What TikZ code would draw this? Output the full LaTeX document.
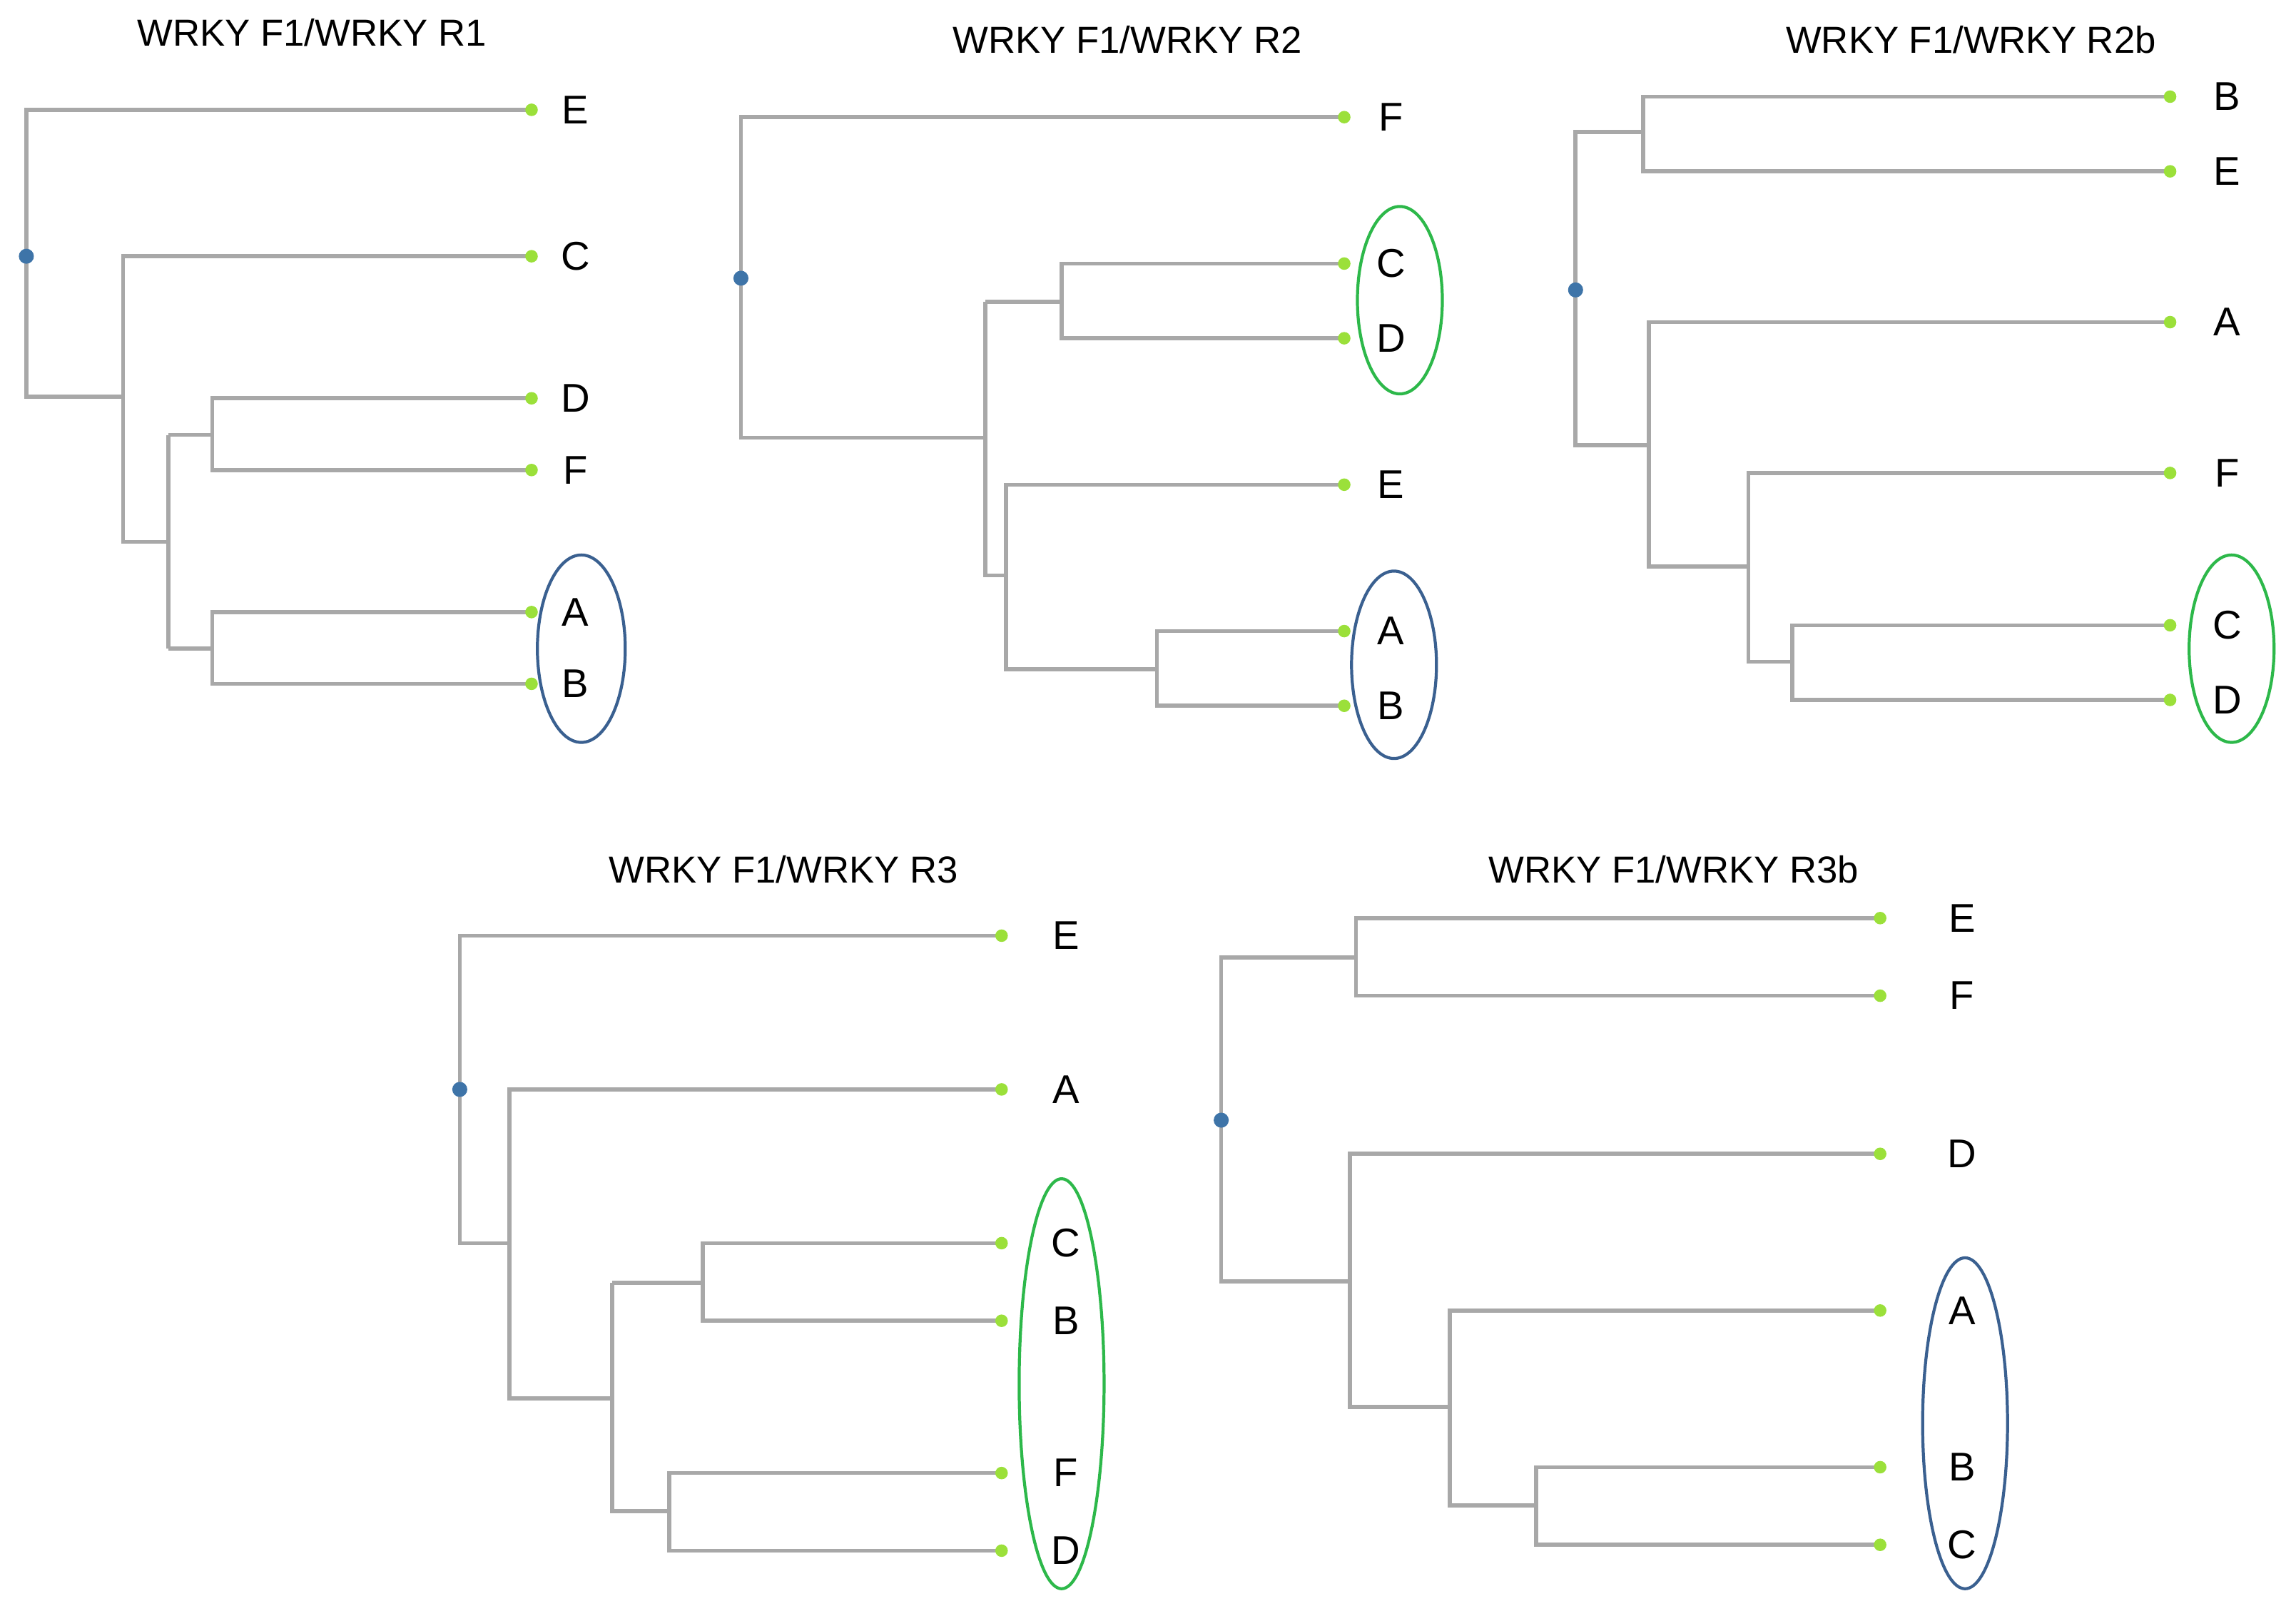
\documentclass[tikz,border=0pt]{standalone}
\usepackage{fontspec}
\setmainfont{Liberation Sans}
\definecolor{br}{HTML}{A8A8A8}
\definecolor{lf}{HTML}{9BE03A}
\definecolor{rt}{HTML}{3E74A8}
\definecolor{eg}{HTML}{2DB84A}
\definecolor{eb}{HTML}{3A6090}
\begin{document}
\begin{tikzpicture}[x=0.020523cm,y=-0.020523cm,
  br/.style={draw=br,line width=1.6pt},
  leaf/.style={circle,fill=lf,inner sep=0pt,minimum size=5pt},
  root/.style={circle,fill=rt,inner sep=0pt,minimum size=6pt},
  lab/.style={font=\fontsize{16}{18}\selectfont},
  ttl/.style={font=\fontsize{15}{18}\selectfont},
  ell/.style={line width=1.2pt}]
\useasboundingbox (0,0) rectangle (1568,1107);
% Tree 1
\node[ttl] at (213,22) {WRKY F1/WRKY R1};
\draw[br] (363,75)--(18,75)--(18,271)--(84,271);
\draw[br] (363,175)--(84,175)--(84,370)--(115,370);
\draw[br] (115,297)--(115,443);
\draw[br] (363,272)--(145,272)--(145,321)--(363,321);
\draw[br] (115,297)--(145,297);
\draw[br] (363,418)--(145,418)--(145,467)--(363,467);
\draw[br] (115,443)--(145,443);
\foreach \y/\t in {75/E,175/C,272/D,321/F,418/A,467/B}{\node[leaf] at (363,\y){}; \node[lab] at (393,\y){\t};}
\node[root] at (18,175){};
\draw[eb,ell] (397,443) ellipse [x radius=30,y radius=64];
% Tree 2
\node[ttl] at (770,27) {WRKY F1/WRKY R2};
\draw[br] (918,80)--(506,80)--(506,299)--(673,299);
\draw[br] (673,206)--(673,393)--(687,393);
\draw[br] (673,206)--(725,206);
\draw[br] (918,180)--(725,180)--(725,231)--(918,231);
\draw[br] (918,331)--(687,331)--(687,457)--(790,457);
\draw[br] (918,431)--(790,431)--(790,482)--(918,482);
\foreach \y/\t in {80/F,180/C,231/D,331/E,431/A,482/B}{\node[leaf] at (918,\y){}; \node[lab] at (950,\y){\t};}
\node[root] at (506,190){};
\draw[eg,ell] (956,205) ellipse [x radius=29,y radius=64];
\draw[eb,ell] (952,454) ellipse [x radius=29,y radius=64];
% Tree 3
\node[ttl] at (1346,27) {WRKY F1/WRKY R2b};
\draw[br] (1122,90)--(1076,90)--(1076,304)--(1126,304);
\draw[br] (1482,66)--(1122,66)--(1122,117)--(1482,117);
\draw[br] (1482,220)--(1126,220)--(1126,387)--(1194,387);
\draw[br] (1482,323)--(1194,323)--(1194,452)--(1224,452);
\draw[br] (1482,427)--(1224,427)--(1224,478)--(1482,478);
\foreach \y/\t in {66/B,117/E,220/A,323/F,427/C,478/D}{\node[leaf] at (1482,\y){}; \node[lab] at (1521,\y){\t};}
\node[root] at (1076,198){};
\draw[eg,ell] (1524,443) ellipse [x radius=29,y radius=64];
% Tree 4
\node[ttl] at (535,594) {WRKY F1/WRKY R3};
\draw[br] (684,639)--(314,639)--(314,849)--(348,849);
\draw[br] (684,744)--(348,744)--(348,955)--(418,955);
\draw[br] (418,876)--(480,876);
\draw[br] (418,876)--(418,1032)--(457,1032);
\draw[br] (684,849)--(480,849)--(480,902)--(684,902);
\draw[br] (684,1006)--(457,1006)--(457,1059)--(684,1059);
\foreach \y/\t in {639/E,744/A,849/C,902/B,1006/F,1059/D}{\node[leaf] at (684,\y){}; \node[lab] at (728,\y){\t};}
\node[root] at (314,744){};
\draw[eg,ell] (725,945) ellipse [x radius=29,y radius=140];
% Tree 5
\node[ttl] at (1143,594) {WRKY F1/WRKY R3b};
\draw[br] (926,654)--(834,654)--(834,875)--(922,875);
\draw[br] (1284,627)--(926,627)--(926,680)--(1284,680);
\draw[br] (1284,788)--(922,788)--(922,961)--(990,961);
\draw[br] (1284,895)--(990,895)--(990,1028)--(1049,1028);
\draw[br] (1284,1002)--(1049,1002)--(1049,1055)--(1284,1055);
\foreach \y/\t in {627/E,680/F,788/D,895/A,1002/B,1055/C}{\node[leaf] at (1284,\y){}; \node[lab] at (1340,\y){\t};}
\node[root] at (834,765){};
\draw[eb,ell] (1342,972) ellipse [x radius=29,y radius=113];
\end{tikzpicture}
\end{document}
